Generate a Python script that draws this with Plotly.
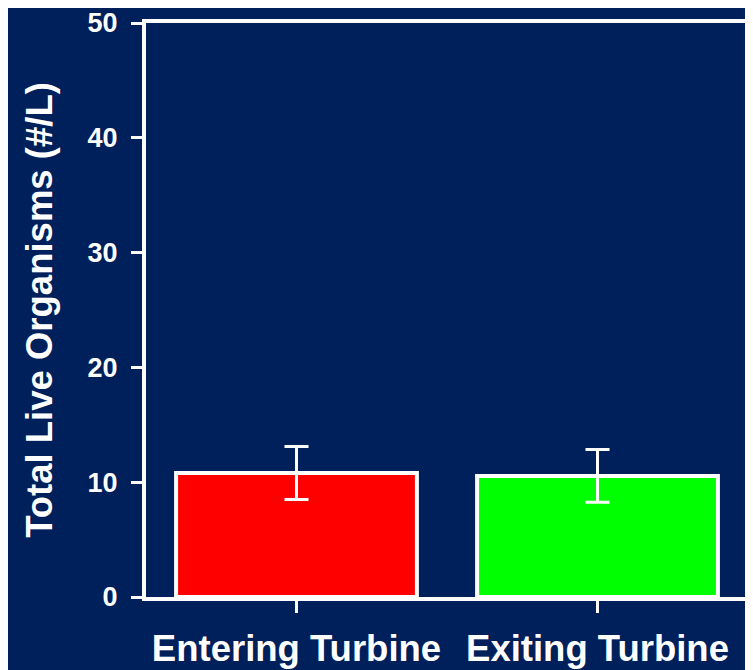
import plotly.graph_objects as go

categories = ["Entering Turbine", "Exiting Turbine"]
values = [10.8, 10.55]
errors = [2.3, 2.3]
colors = ["#FF0000", "#00FF00"]
y_ticks = [0, 10, 20, 30, 40, 50]

BG = "#00205B"
FONT = "Liberation Sans, Arial, sans-serif"

fig = go.Figure(
    go.Bar(
        x=categories,
        y=values,
        width=0.8,
        marker=dict(color=colors, line=dict(color="white", width=4)),
        error_y=dict(type="data", array=errors, visible=True,
                     color="white", thickness=3, width=12),
    )
)

fig.update_layout(
    width=745, height=662,
    paper_bgcolor=BG, plot_bgcolor=BG,
    margin=dict(l=138, r=5, t=15, b=73),
    showlegend=False,
    font=dict(family=FONT, color="white"),
    bargap=0.2,
)

fig.update_xaxes(
    showline=True, linecolor="white", linewidth=4, mirror=True,
    ticks="outside", ticklen=12, tickwidth=3, tickcolor="white",
    ticklabelstandoff=4, automargin=False, ticklabeloverflow="allow",
    tickfont=dict(size=36.5, family=FONT, color="white", weight="bold"),
    showgrid=False,
)
fig.update_yaxes(
    range=[0, 50], tickvals=y_ticks, ticktext=[str(v) for v in y_ticks],
    showline=True, linecolor="white", linewidth=4, mirror=True,
    ticks="outside", ticklen=11, tickwidth=3, tickcolor="white",
    ticklabelstandoff=8, automargin=False, ticklabeloverflow="allow",
    tickfont=dict(size=27, family=FONT, color="white", weight="bold"),
    showgrid=False, zeroline=False,
    title=dict(text="Total Live Organisms (#/L)", standoff=25,
               font=dict(size=36.5, family=FONT, color="white", weight="bold")),
)

fig.write_html("out.html")
